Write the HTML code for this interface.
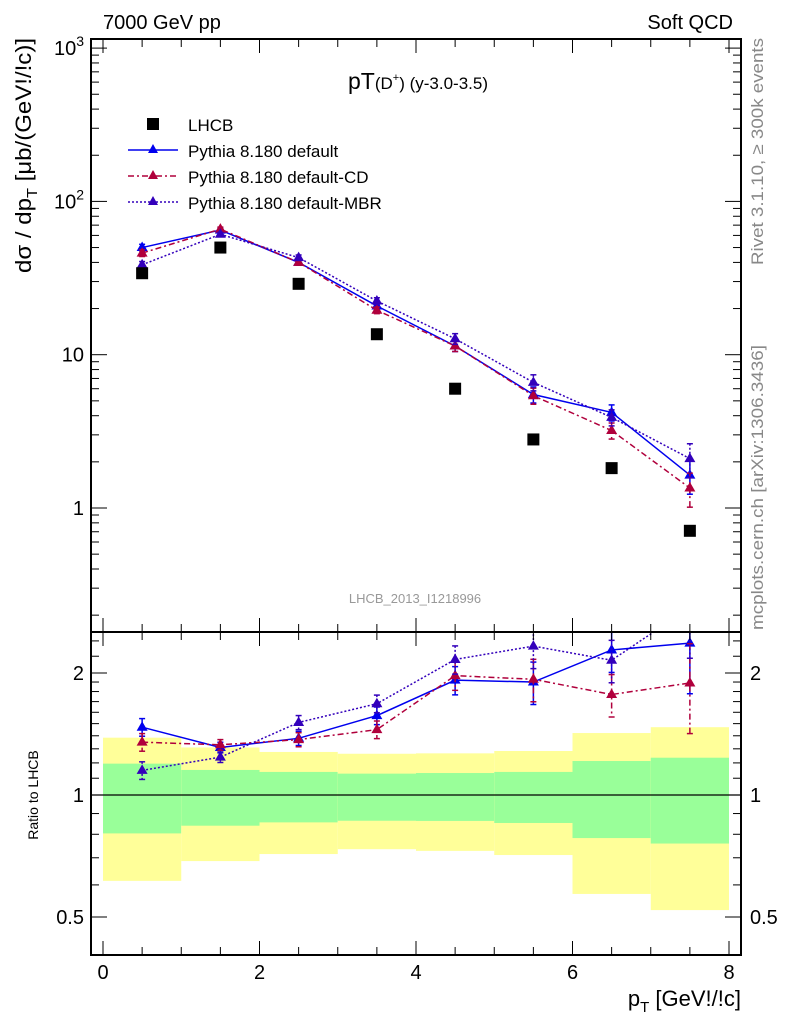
<!DOCTYPE html>
<html><head><meta charset="utf-8"><style>
html,body{margin:0;padding:0;background:#fff;}
svg{display:block;font-family:"Liberation Sans",sans-serif;}
</style></head><body>
<svg id="c" width="786" height="1024" viewBox="0 0 786 1024" xmlns="http://www.w3.org/2000/svg">
<rect x="0" y="0" width="786" height="1024" fill="#fff"/>
<g id="bands"></g>
<g id="marks"></g>
<g id="axes"></g>
<text x="103" y="29" font-size="20">7000 GeV pp</text>
<text x="733" y="29" font-size="20" text-anchor="end">Soft QCD</text>
<text x="418" y="89" font-size="23" text-anchor="middle">pT<tspan font-size="17">(D</tspan><tspan font-size="11" dy="-8">+</tspan><tspan font-size="17" dy="8">) (y-3.0-3.5)</tspan></text>
<text transform="translate(31,38) rotate(-90)" font-size="22" text-anchor="end" textLength="235" lengthAdjust="spacingAndGlyphs">dσ / dp<tspan font-size="15" dy="6">T</tspan><tspan dy="-6"> [μb/(GeV!/!c)]</tspan></text>
<text transform="translate(38,795) rotate(-90)" font-size="14" text-anchor="middle">Ratio to LHCB</text>
<text x="741" y="1006" font-size="22" text-anchor="end">p<tspan font-size="15" dy="6">T</tspan><tspan dy="-6"> [GeV!/!c]</tspan></text>
<text transform="translate(763,38) rotate(-90)" font-size="17" fill="#888" text-anchor="end" textLength="227" lengthAdjust="spacingAndGlyphs">Rivet 3.1.10, ≥ 300k events</text>
<text transform="translate(763,630) rotate(-90)" font-size="17" fill="#888" textLength="285" lengthAdjust="spacingAndGlyphs">mcplots.cern.ch [arXiv:1306.3436]</text>
<text x="415" y="603" font-size="13" fill="#999" text-anchor="middle">LHCB_2013_I1218996</text>
<g>
<rect x="147" y="118" width="12" height="12" fill="#000"/>
<text x="188" y="131" font-size="17">LHCB</text>
<line x1="128" y1="150" x2="178" y2="150" stroke="#0000ee" stroke-width="1.5"/>
<path d="M153,144 l5,9 h-10z" fill="#0000ee"/>
<text x="188" y="157" font-size="17">Pythia 8.180 default</text>
<line x1="128" y1="176" x2="178" y2="176" stroke="#b0003c" stroke-width="1.5" stroke-dasharray="6,3,2,3"/>
<path d="M153,170 l5,9 h-10z" fill="#b0003c"/>
<text x="188" y="183" font-size="17">Pythia 8.180 default-CD</text>
<line x1="128" y1="202" x2="178" y2="202" stroke="#3300bb" stroke-width="1.5" stroke-dasharray="2,2"/>
<path d="M153,196 l5,9 h-10z" fill="#3300bb"/>
<text x="188" y="209" font-size="17">Pythia 8.180 default-MBR</text>
</g>
</svg>
<script>
const xCenters=[0.5,1.5,2.5,3.5,4.5,5.5,6.5,7.5];
const binEdges=[0,1,2,3,4,5,6,7,8];
const lhcb=[34,50,29,13.6,6.0,2.8,1.82,0.71];
const pyDefault=[50,65,40,20.8,11.4,5.5,4.2,1.64];
const pyCD=[46,66,40,19.5,11.4,5.4,3.2,1.35];
const pyMBR=[38.6,61,43,22.4,12.7,6.6,3.9,2.1];
const ratioDefault=[1.47,1.31,1.38,1.57,1.92,1.90,2.28,2.37];
const ratioCD=[1.35,1.33,1.37,1.45,1.97,1.93,1.77,1.89];
const ratioMBR=[1.15,1.24,1.51,1.68,2.16,2.33,2.15,2.9];
const relErr=[0.05,0.03,0.04,0.05,0.08,0.12,0.12,0.25];
const yellowHi=[1.385,1.31,1.277,1.264,1.267,1.284,1.422,1.47];
const yellowLo=[0.614,0.687,0.715,0.735,0.728,0.711,0.57,0.52];
const greenHi=[1.195,1.153,1.14,1.129,1.133,1.14,1.213,1.236];
const greenLo=[0.804,0.84,0.856,0.864,0.863,0.853,0.783,0.759];
const xTicks=[0,2,4,6,8];
const mainTicks=[1,10,100,1000];
const mainTickLabels=["1","10","10²","10³"];
const ratioTicks=[0.5,1,2];

const NS="http://www.w3.org/2000/svg";
const L=91,R=741,T=39,MID=632,B=955;
const X=v=>103+v*78.25;
const Y=v=>508-153.3*Math.log10(v);
const YR=v=>795-122*Math.log2(v);
function mk(p,tag,a){const e=document.createElementNS(NS,tag);for(const k in a)e.setAttribute(k,a[k]);p.appendChild(e);return e;}
const bands=document.getElementById('bands'),marks=document.getElementById('marks'),axes=document.getElementById('axes');

for(let i=0;i<xCenters.length;i++){
  let e=mk(bands,'rect',{x:X(binEdges[i]),y:YR(yellowHi[i]),width:X(binEdges[i+1])-X(binEdges[i]),height:YR(yellowLo[i])-YR(yellowHi[i]),fill:'#ffff99'});
  
  
  e=mk(bands,'rect',{x:X(binEdges[i]),y:YR(greenHi[i]),width:X(binEdges[i+1])-X(binEdges[i]),height:YR(greenLo[i])-YR(greenHi[i]),fill:'#99ff99'});
  
  
}
mk(bands,'line',{x1:L,x2:R,y1:YR(1),y2:YR(1),stroke:'#000','stroke-width':1.2});

const clipM=mk(marks,'clipPath',{id:'cm'});mk(clipM,'rect',{x:L,y:T,width:R-L,height:MID-T});
const clipR=mk(marks,'clipPath',{id:'cr'});mk(clipR,'rect',{x:L,y:MID,width:R-L,height:B-MID});

function series(vals,yf,color,dash,clip,name){
  const g=mk(marks,'g',{'clip-path':'url(#'+clip+')'});
  
  
  const pts=vals.map((v,i)=>X(xCenters[i])+','+yf(v)).join(' ');
  mk(g,'polyline',{points:pts,fill:'none',stroke:color,'stroke-width':1.5,'stroke-dasharray':dash});
  vals.forEach((v,i)=>{
    const x=X(xCenters[i]),y=yf(v),hi=yf(v*(1+relErr[i])),lo=yf(v*(1-relErr[i]));
    mk(g,'line',{x1:x,x2:x,y1:hi,y2:lo,stroke:color,'stroke-width':1.5,'stroke-dasharray':dash});
    mk(g,'line',{x1:x-3,x2:x+3,y1:hi,y2:hi,stroke:color,'stroke-width':1.5});
    mk(g,'line',{x1:x-3,x2:x+3,y1:lo,y2:lo,stroke:color,'stroke-width':1.5});
    const p=mk(g,'path',{d:`M${x},${y-6} l5.5,9.5 h-11z`,fill:color});
    
    
  });
}
series(pyDefault,Y,'#0000ee','none','cm','default-series');
series(pyCD,Y,'#b0003c','6,3,2,3','cm','cd-series');
series(pyMBR,Y,'#3300bb','2,2','cm','mbr-series');
series(ratioDefault,YR,'#0000ee','none','cr','default-ratio');
series(ratioCD,YR,'#b0003c','6,3,2,3','cr','cd-ratio');
series(ratioMBR,YR,'#3300bb','2,2','cr','mbr-ratio');
lhcb.forEach((v,i)=>{
  const r=mk(marks,'rect',{x:X(xCenters[i])-6,y:Y(v)-6,width:12,height:12,fill:'#000','clip-path':'url(#cm)'});
  
  
});

mk(axes,'rect',{x:L,y:T,width:R-L,height:B-T,fill:'none',stroke:'#000','stroke-width':2});
mk(axes,'line',{x1:L,x2:R,y1:MID,y2:MID,stroke:'#000','stroke-width':2});
for(let v=0;v<=8.001;v+=0.5){
  const x=X(v),maj=Math.abs(v-Math.round(v/2)*2)<1e-6,len=maj?14:8;
  mk(axes,'line',{x1:x,x2:x,y1:B,y2:B-len,stroke:'#000','stroke-width':1});
  mk(axes,'line',{x1:x,x2:x,y1:MID,y2:MID-len,stroke:'#000','stroke-width':1});
  mk(axes,'line',{x1:x,x2:x,y1:T,y2:T+len,stroke:'#000','stroke-width':1});
  mk(axes,'line',{x1:x,x2:x,y1:MID,y2:MID+len,stroke:'#000','stroke-width':1});
}
xTicks.forEach(v=>{
  const t=mk(axes,'text',{x:X(v),y:979,'font-size':20,'text-anchor':'middle'});t.textContent=v;
  
  
});
for(let d=-1;d<=3;d++)for(let m=1;m<=9;m++){
  const v=m*Math.pow(10,d),y=Y(v);if(y<T||y>MID)continue;
  const len=m===1?16:8;
  mk(axes,'line',{x1:L,x2:L+len,y1:y,y2:y,stroke:'#000','stroke-width':1});
  mk(axes,'line',{x1:R,x2:R-len,y1:y,y2:y,stroke:'#000','stroke-width':1});
}
mainTicks.forEach((v,i)=>{
  const t=mk(axes,'text',{x:84,y:Y(v)+7,'font-size':20,'text-anchor':'end'});
  if(v>=100){t.textContent='10';const s=mk(t,'tspan',{'font-size':14,dy:-9});s.textContent=String(Math.log10(v));}
  else t.textContent=mainTickLabels[i];
  
  
});
[0.4,0.5,0.6,0.7,0.8,0.9,1,1.1,1.2,1.3,1.4,1.5,1.6,1.7,1.8,1.9,2,2.2,2.4].forEach(v=>{
  const y=YR(v);if(y<MID||y>B)return;const len=ratioTicks.includes(v)?16:8;
  mk(axes,'line',{x1:L,x2:L+len,y1:y,y2:y,stroke:'#000','stroke-width':1});
  mk(axes,'line',{x1:R,x2:R-len,y1:y,y2:y,stroke:'#000','stroke-width':1});
});
ratioTicks.forEach(v=>{
  let t=mk(axes,'text',{x:84,y:YR(v)+7,'font-size':20,'text-anchor':'end'});t.textContent=v;
  
  
  t=mk(axes,'text',{x:750,y:YR(v)+7,'font-size':20});t.textContent=v;
  
  
});
</script>
</body></html>
